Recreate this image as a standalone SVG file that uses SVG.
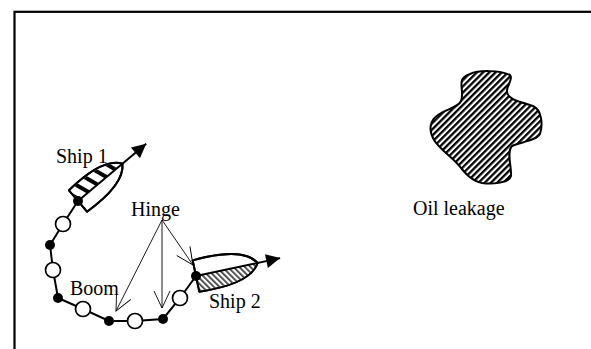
<svg xmlns="http://www.w3.org/2000/svg" width="591" height="349" viewBox="0 0 591 349">
  <style>
    .lbl { font-family: "Liberation Serif", "Times New Roman", serif; font-size: 20px; fill: #000; }
    .hull { fill: #fff; stroke: #000; stroke-width: 2; stroke-linejoin: round; }
    .outline { fill: none; stroke: #000; stroke-width: 2; stroke-linejoin: round; }
    .axis { fill: none; stroke: #000; stroke-width: 2; }
    .boom { fill: none; stroke: #000; stroke-width: 2; }
    .float { fill: #fff; stroke: #000; stroke-width: 1.7; }
    .hinge { fill: #000; }
    .pointer { fill: none; stroke: #000; stroke-width: 0.9; }
  </style>
  <defs>
    <!-- coarse bands for the hatched side of ship 1 -->
    <pattern id="bands" patternUnits="userSpaceOnUse" width="11" height="11" patternTransform="rotate(-20)">
      <rect width="11" height="11" fill="#fff"/>
      <rect width="4" height="11" fill="#000"/>
    </pattern>
    <!-- fine grey hatch for ship 2 -->
    <pattern id="fine" patternUnits="userSpaceOnUse" width="4" height="4" patternTransform="rotate(-33)">
      <rect width="4" height="4" fill="#fff"/>
      <rect width="1.8" height="4" fill="#444"/>
    </pattern>
    <!-- dense diagonal hatch for the slick -->
    <pattern id="slick" patternUnits="userSpaceOnUse" width="4.4" height="4.4" patternTransform="rotate(45)">
      <rect width="4.4" height="4.4" fill="#fff"/>
      <rect width="2.3" height="4.4" fill="#000"/>
    </pattern>
    <marker id="solid" markerUnits="userSpaceOnUse" markerWidth="16" markerHeight="16" viewBox="-15 -8 16 16" refX="0" refY="0" orient="auto">
      <path d="M-14,-7 L0,0 L-14,7 Z" fill="#000"/>
    </marker>
    <marker id="open" markerUnits="userSpaceOnUse" markerWidth="20" markerHeight="20" viewBox="-18 -10 20 20" refX="0" refY="0" orient="auto">
      <path d="M-17,-8 L0,0 L-17,8" fill="none" stroke="#000" stroke-width="0.9"/>
    </marker>
  </defs>

  <rect id="frame" x="14.5" y="11.8" width="600" height="400" fill="#fff" stroke="#000" stroke-width="2.2"/>

  <g id="connectors">
    <polyline class="boom" points="78,201 63,224 50,245 53,270 58,298 83,309 109,321 135,321 163,319 180,298 196,276"/>
  </g>

  <g id="ship1" transform="translate(78,201) rotate(-40)">
    <path class="hull" d="M0,-14 C28,-16 50,-12 58,0 C50,12 28,16 0,14 Z"/>
    <path fill="url(#bands)" d="M1,-13 C28,-15 49,-11 57,0 L1,0 Z"/>
    <path class="outline" d="M0,-14 C28,-16 50,-12 58,0 C50,12 28,16 0,14 Z"/>
    <line class="axis" x1="0" y1="0" x2="89" y2="0" marker-end="url(#solid)"/>
  </g>

  <g id="ship2" transform="translate(196,276) rotate(-12)">
    <path class="hull" d="M0,-16 C32,-18 55,-14 63,0 C55,14 32,18 0,16 Z"/>
    <path fill="url(#fine)" d="M1,0 L62,0 C54,13 32,17 1,15 Z"/>
    <path class="outline" d="M0,-16 C32,-18 55,-14 63,0 C55,14 32,18 0,16 Z"/>
    <line class="axis" x1="0" y1="0" x2="86" y2="0" marker-end="url(#solid)"/>
  </g>

  <g id="boom">
    <circle class="hinge" cx="78" cy="201" r="5"/>
    <circle class="float" cx="63" cy="224" r="7.5"/>
    <circle class="hinge" cx="50" cy="245" r="5"/>
    <circle class="float" cx="53" cy="270" r="7.5"/>
    <circle class="hinge" cx="58" cy="298" r="5"/>
    <circle class="float" cx="83" cy="309" r="7.5"/>
    <circle class="hinge" cx="109" cy="321" r="5"/>
    <circle class="float" cx="135" cy="321" r="7.5"/>
    <circle class="hinge" cx="163" cy="319" r="5"/>
    <circle class="float" cx="180" cy="298" r="7.5"/>
    <circle class="hinge" cx="196" cy="276" r="5"/>
  </g>

  <g id="oil-leakage">
    <path d="M470,74 C478,70 500,70 510,75 C514,79 506,86 507,92 C508,100 522,102 533,106 C542,110 543,125 540,134 C536,141 520,142 512,146 C506,152 512,168 511,176 C509,184 490,184 482,183 C472,181 466,174 461,168 C454,158 440,150 434,140 C428,130 430,120 438,115 C446,109 458,108 461,101 C464,94 460,86 462,80 C464,76 467,75 470,74 Z" fill="url(#slick)" stroke="#000" stroke-width="2"/>
    <text class="lbl" x="413" y="215">Oil leakage</text>
  </g>

  <g id="hinge-pointers">
    <line class="pointer" x1="162" y1="220" x2="116" y2="311" marker-end="url(#open)"/>
    <line class="pointer" x1="162" y1="220" x2="162" y2="308" marker-end="url(#open)"/>
    <line class="pointer" x1="162" y1="220" x2="193" y2="265" marker-end="url(#open)"/>
  </g>

  <g id="labels">
    <text class="lbl" x="56" y="163">Ship 1</text>
    <text class="lbl" x="131" y="216">Hinge</text>
    <text class="lbl" x="70" y="295">Boom</text>
    <text class="lbl" x="209" y="308">Ship 2</text>
  </g>
</svg>
